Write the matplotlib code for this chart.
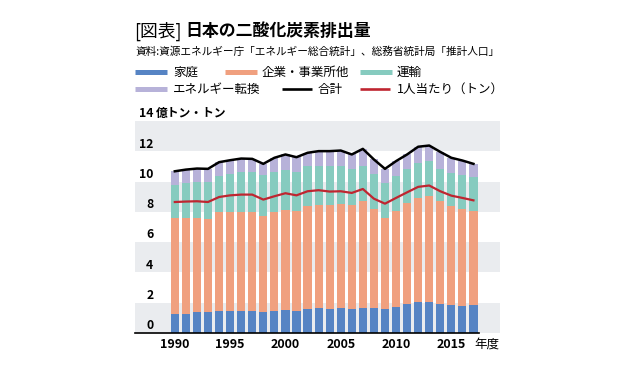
import matplotlib
matplotlib.use('Agg')
import matplotlib.pyplot as plt
import numpy as np

plt.rcParams['font.family'] = ['Noto Sans CJK JP', 'DejaVu Sans']

# 年度 1990-2017, 億トン
years = list(range(1990, 2018))
household = [1.26, 1.28, 1.37, 1.37, 1.46, 1.48, 1.48, 1.46, 1.41, 1.48,
             1.52, 1.48, 1.59, 1.63, 1.59, 1.68, 1.59, 1.63, 1.63, 1.59,
             1.74, 1.92, 2.07, 2.07, 1.92, 1.85, 1.81, 1.85]
industry = [6.33, 6.33, 6.24, 6.18, 6.51, 6.51, 6.51, 6.53, 6.29, 6.51,
            6.63, 6.55, 6.77, 6.85, 6.89, 6.84, 6.84, 7.07, 6.56, 6.00,
            6.34, 6.67, 6.85, 7.00, 6.78, 6.51, 6.38, 6.23]
transport = [2.21, 2.27, 2.34, 2.43, 2.43, 2.53, 2.63, 2.63, 2.72, 2.65,
             2.64, 2.61, 2.65, 2.53, 2.58, 2.49, 2.41, 2.36, 2.32, 2.32,
             2.32, 2.25, 2.32, 2.28, 2.15, 2.21, 2.27, 2.23]
conversion = [0.88, 0.91, 0.91, 0.86, 0.88, 0.89, 0.90, 0.88, 0.75, 0.93,
              1.00, 0.97, 0.89, 1.00, 0.95, 1.04, 0.95, 1.10, 0.95, 0.93,
              0.95, 0.95, 1.06, 1.03, 1.11, 1.00, 0.93, 0.86]
# 1人当たり(トン)
per_capita = [8.65, 8.68, 8.70, 8.65, 8.98, 9.09, 9.14, 9.14, 8.81, 9.03,
              9.23, 9.09, 9.36, 9.43, 9.34, 9.36, 9.25, 9.51, 8.87, 8.54,
              8.92, 9.29, 9.65, 9.74, 9.36, 9.07, 8.92, 8.76]

y_ticks = [0, 2, 4, 6, 8, 10, 12]
x_ticks = [1990, 1995, 2000, 2005, 2010, 2015]

c_house = '#5684c4'
c_ind = '#f0a07f'
c_trans = '#86cbbf'
c_conv = '#b7b2d9'
c_red = '#bf2530'
c_band = '#eaecef'


def main():
    fig = plt.figure(figsize=(6.32, 3.78), dpi=100)
    ax = fig.add_axes([135 / 632, 45 / 378, 365 / 632, 212 / 378])
    ax.set_xlim(1986.4, 2019.4)
    ax.set_ylim(0, 14)
    ax.set_axis_off()

    for lo in (0, 4, 8, 12):
        ax.axhspan(lo, lo + 2, color=c_band, lw=0, zorder=0)

    x = np.array(years)
    bottom = np.zeros(len(years))
    for vals, col in [(household, c_house), (industry, c_ind),
                      (transport, c_trans), (conversion, c_conv)]:
        ax.bar(x, vals, width=0.74, bottom=bottom, color=col, lw=0, zorder=2)
        bottom = bottom + np.array(vals)

    ax.plot(x, bottom, color='black', lw=1.8, zorder=4)
    ax.plot(x, per_capita, color=c_red, lw=1.6, zorder=4)
    ax.plot([1986.4, 2017.5], [0, 0], color='black', lw=1.2,
            clip_on=False, zorder=5)

    ytr = ax.get_yaxis_transform()
    for v in y_ticks:
        ax.text(0.05, v + 0.48, str(v), transform=ytr, ha='right',
                va='center', fontsize=8.8, fontweight='bold')
    ax.text(0.05, 14.5, '14', transform=ytr, ha='right', va='center',
            fontsize=8.8, fontweight='bold')
    ax.text(0.057, 14.5, '億トン・トン', transform=ytr, ha='left',
            va='center', fontsize=8.5, fontweight='bold')

    xtr = ax.get_xaxis_transform()
    for yr in x_ticks:
        ax.text(yr, -0.052, str(yr), transform=xtr, ha='center',
                va='center', fontsize=9, fontweight='bold')
    ax.text(2018.2, -0.052, '年度', transform=xtr, ha='center',
            va='center', fontsize=9)

    # header and legend in pixel space
    ov = fig.add_axes([0, 0, 1, 1])
    ov.set_xlim(0, 632)
    ov.set_ylim(378, 0)
    ov.set_axis_off()
    ov.patch.set_visible(False)

    ov.text(134, 31.5, '[図表]', fontsize=12.8, va='center', ha='left')
    ov.text(185, 31.5, '日本の二酸化炭素排出量', fontsize=12.2,
            fontweight='bold', va='center', ha='left')
    ov.text(135, 52, '資料:資源エネルギー庁「エネルギー総合統計」、総務省統計局「推計人口」',
            fontsize=7.7, va='center', ha='left')

    legend = [
        (135, 167, 72, c_house, 3.6, '家庭', 173),
        (225, 257, 72, c_ind, 3.6, '企業・事業所他', 262),
        (360, 392, 72, c_trans, 3.6, '運輸', 397),
        (135, 167, 89, c_conv, 3.6, 'エネルギー転換', 173),
        (282, 312, 89, 'black', 1.9, '合計', 318),
        (360, 390, 89, c_red, 1.9, '1人当たり（トン）', 397),
    ]
    for x0, x1, yy, col, lw, label, tx in legend:
        ov.plot([x0, x1], [yy, yy], color=col, lw=lw, solid_capstyle='butt')
        ov.text(tx, yy, label, fontsize=9, va='center', ha='left')

    fig.savefig('out.png', dpi=100)


if __name__ == "__main__":
    main()
